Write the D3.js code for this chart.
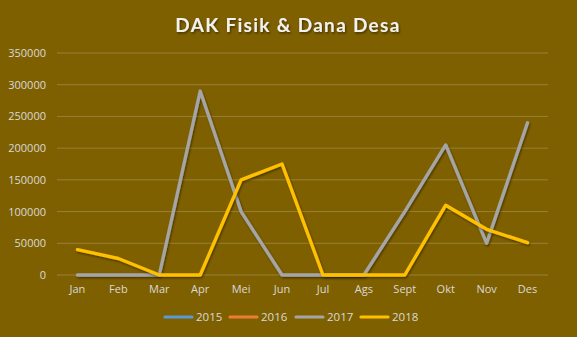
<!DOCTYPE html>
<html><head><meta charset="utf-8">
<script src="https://cdn.jsdelivr.net/npm/d3@7"></script>
<style>html,body{margin:0;padding:0;background:#7F6000;}svg{display:block;}</style>
</head><body>
<script>
const months = ["Jan","Feb","Mar","Apr","Mei","Jun","Jul","Ags","Sept","Okt","Nov","Des"];
const seriesNames = ["2015","2016","2017","2018"];
const seriesColors = ["#5B9BD5","#ED7D31","#A5A5A5","#FFC000"];
const v2015 = [0,0,0,0,0,0,0,0,0,0,0,0];
const v2016 = [0,0,0,0,0,0,0,0,0,0,0,0];
const v2017 = [0,0,0,290000,100000,0,0,0,100000,205000,50000,240000];
const v2018 = [40000,26000,0,0,150000,175000,0,0,0,110000,72000,51000];
const yTicks = [0,50000,100000,150000,200000,250000,300000,350000];
const title = "DAK Fisik & Dana Desa";

const W=577,H=337;
const svg=d3.select("body").append("svg").attr("width",W).attr("height",H);
svg.append("rect").attr("width",W).attr("height",H).attr("fill","#7F6000");

const defs=svg.append("defs");
const f=defs.append("filter").attr("id","sh").attr("x","-10%").attr("y","-10%").attr("width","120%").attr("height","130%");
f.append("feDropShadow").attr("dx",1).attr("dy",1.5).attr("stdDeviation",1).attr("flood-color","#000").attr("flood-opacity",0.45);
const ft=defs.append("filter").attr("id","tsh");
ft.append("feDropShadow").attr("dx",1).attr("dy",1.5).attr("stdDeviation",1).attr("flood-color","#000").attr("flood-opacity",0.5);

svg.append("text").attr("x",288).attr("y",32).attr("text-anchor","middle")
  .attr("font-family","Lato, 'Open Sans', sans-serif").attr("font-weight","bold").attr("font-size",19)
  .attr("letter-spacing",1.3).attr("fill","#F2F2F2").attr("filter","url(#tsh)").text(title);

const x=d3.scaleBand().domain(months).range([57,548]);
const y=d3.scaleLinear().domain([0,350000]).range([275,53]);

const grid=svg.append("g");
grid.selectAll("line").data(yTicks.filter(t=>t>0)).join("line")
  .attr("x1",57).attr("x2",548).attr("y1",d=>y(d)).attr("y2",d=>y(d))
  .attr("stroke","#98803a").attr("stroke-width",1);
svg.append("line").attr("x1",57).attr("x2",548).attr("y1",y(0)).attr("y2",y(0)).attr("stroke","#98803a");

const yAxis=svg.append("g").attr("transform","translate(57,0)")
  .call(d3.axisLeft(y).tickValues(yTicks).tickSize(0).tickPadding(11).tickFormat(d3.format("d")));
yAxis.select(".domain").remove();
yAxis.selectAll("text").attr("fill","#D9D9D9").attr("font-family","'Open Sans', sans-serif").attr("font-size",11);

const xAxis=svg.append("g").attr("transform","translate(0,275)")
  .call(d3.axisBottom(x).tickSize(0).tickPadding(10));
xAxis.select(".domain").remove();
xAxis.selectAll("text").attr("fill","#D9D9D9").attr("font-family","'Open Sans', sans-serif").attr("font-size",11);

const allVals=[v2015,v2016,v2017,v2018];
const line=d3.line().x((d,i)=>x(months[i])+x.bandwidth()/2).y(d=>y(d));
allVals.forEach((vals,k)=>{
  svg.append("path").datum(vals).attr("d",line).attr("fill","none")
    .attr("stroke",seriesColors[k]).attr("stroke-width",3.4)
    .attr("stroke-linejoin","round").attr("stroke-linecap","round").attr("filter","url(#sh)");
});

const legX=[165,230,296,361];
const leg=svg.append("g");
seriesNames.forEach((n,k)=>{
  const g=leg.append("g").attr("transform",`translate(${legX[k]},317)`);
  g.append("line").attr("x1",0).attr("x2",27).attr("stroke",seriesColors[k]).attr("stroke-width",3.2).attr("stroke-linecap","round");
  g.append("text").attr("x",31).attr("y",4).attr("fill","#D9D9D9").attr("font-family","'Open Sans', sans-serif").attr("font-size",11.5).text(n);
});
</script>
</body></html>
